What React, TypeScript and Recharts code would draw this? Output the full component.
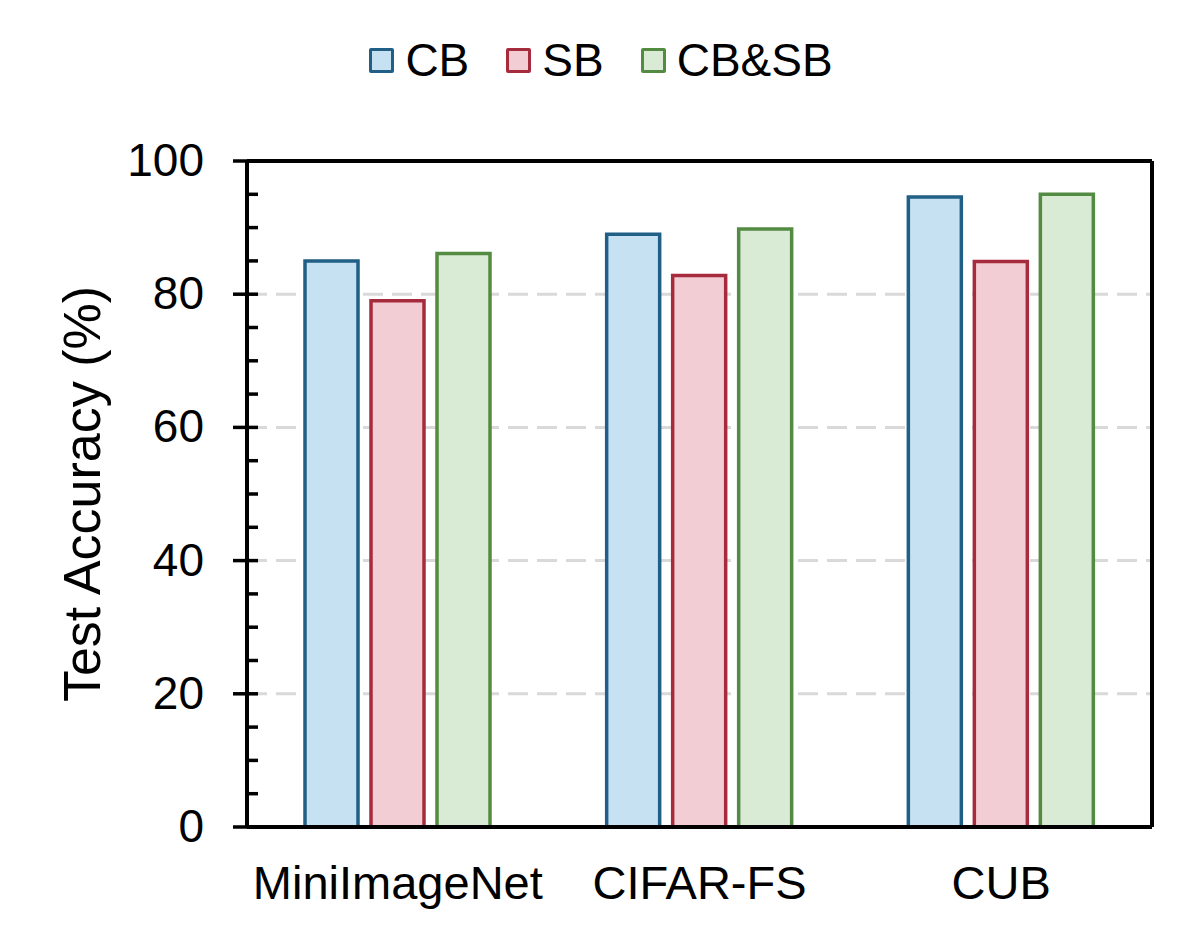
import React from "react";
import {
  BarChart,
  Bar,
  XAxis,
  YAxis,
  CartesianGrid,
  Legend,
} from "recharts";

const categories = ["MiniImageNet", "CIFAR-FS", "CUB"];
const cbValues = [85.0, 89.0, 94.6];
const sbValues = [79.0, 82.8, 84.9];
const cbsbValues = [86.1, 89.8, 95.0];
const yTicks = [0, 5, 10, 15, 20, 25, 30, 35, 40, 45, 50, 55, 60, 65, 70, 75, 80, 85, 90, 95, 100];
const gridValues = [20, 40, 60, 80];

const seriesInfo = [
  { key: "CB", fill: "#c5e1f2", stroke: "#215f86" },
  { key: "SB", fill: "#f2cdd3", stroke: "#a62b3c" },
  { key: "CB&SB", fill: "#d9ead5", stroke: "#548b43" },
];

const data = categories.map((name, i) => ({
  name,
  CB: cbValues[i],
  SB: sbValues[i],
  "CB&SB": cbsbValues[i],
}));

const FONT = "'Liberation Sans', Arial, sans-serif";

const YTick = (props: any) => {
  const { x, y, payload } = props;
  const v = payload.value;
  const major = v % 20 === 0;
  return (
    <g>
      <line
        x1={major ? x - 14 : x}
        x2={x + 11}
        y1={y}
        y2={y}
        stroke="#000"
        strokeWidth={3.5}
      />
      {major && (
        <text
          x={x - 43}
          y={y + 15}
          textAnchor="end"
          fontSize={46}
          fontFamily={FONT}
          fill="#000"
        >
          {v}
        </text>
      )}
    </g>
  );
};

const XTick = (props: any) => {
  const { x, y, payload } = props;
  return (
    <text
      x={x}
      y={y + 72}
      textAnchor="middle"
      fontSize={47}
      fontFamily={FONT}
      fill="#000"
    >
      {payload.value}
    </text>
  );
};

const LegendContent = () => (
  <div
    style={{
      display: "flex",
      justifyContent: "center",
      alignItems: "center",
      fontFamily: FONT,
      fontSize: 46,
      lineHeight: "46px",
      height: 46,
    }}
  >
    {seriesInfo.map((s, i) => (
      <div
        key={s.key}
        style={{
          display: "flex",
          alignItems: "center",
          marginLeft: i === 0 ? 0 : 37,
        }}
      >
        <div
          style={{
            width: 19,
            height: 19,
            background: s.fill,
            border: `3.5px solid ${s.stroke}`,
            borderRadius: 2,
            marginRight: 11,
          }}
        />
        <span style={{ color: "#000" }}>{s.key}</span>
      </div>
    ))}
  </div>
);

const YLabel = (props: any) => {
  const { viewBox } = props;
  const cx = viewBox.x + viewBox.width - 147;
  const cy = viewBox.y + viewBox.height / 2;
  return (
    <text
      x={cx}
      y={cy}
      transform={`rotate(-90, ${cx}, ${cy})`}
      textAnchor="middle"
      fontSize={52}
      fontFamily={FONT}
      fill="#000"
    >
      Test Accuracy (%)
    </text>
  );
};

export default function App() {
  return (
    <div style={{ width: 1186, height: 919, position: "relative" }}>
      <BarChart
        width={1186}
        height={919}
        data={data}
        margin={{ top: 152, right: 41, bottom: 30, left: 129 }}
        barCategoryGap={58}
        barGap={13}
      >
        <CartesianGrid
          xAxisId="main"
          yAxisId="left"
          vertical={false}
          horizontalValues={gridValues}
          stroke="#d9d9d9"
          strokeWidth={3}
          strokeDasharray="20 9"
        />
        <XAxis
          xAxisId="main"
          dataKey="name"
          tick={<XTick />}
          tickLine={false}
          tickSize={0}
          tickMargin={0}
          height={70}
          axisLine={{ stroke: "#000", strokeWidth: 4 }}
          interval={0}
        />
        <XAxis
          xAxisId="top"
          orientation="top"
          dataKey="name"
          tick={false}
          tickLine={false}
          height={1}
          axisLine={{ stroke: "#000", strokeWidth: 4 }}
        />
        <YAxis
          yAxisId="left"
          domain={[0, 100]}
          ticks={yTicks}
          interval={0}
          tick={<YTick />}
          tickLine={false}
          tickSize={0}
          tickMargin={0}
          width={110}
          axisLine={{ stroke: "#000", strokeWidth: 4 }}
          label={<YLabel />}
        />
        <YAxis
          yAxisId="right"
          orientation="right"
          domain={[0, 100]}
          tick={false}
          tickLine={false}
          width={1}
          axisLine={{ stroke: "#000", strokeWidth: 4 }}
        />
        <Legend
          verticalAlign="middle"
          align="center"
          width={1186}
          wrapperStyle={{ top: 29, left: 0, width: 1186 }}
          content={<LegendContent />}
        />
        {seriesInfo.map((s) => (
          <Bar
            key={s.key}
            xAxisId="main"
            yAxisId="left"
            dataKey={s.key}
            fill={s.fill}
            stroke={s.stroke}
            strokeWidth={3.5}
            isAnimationActive={false}
          />
        ))}
      </BarChart>
    </div>
  );
}
